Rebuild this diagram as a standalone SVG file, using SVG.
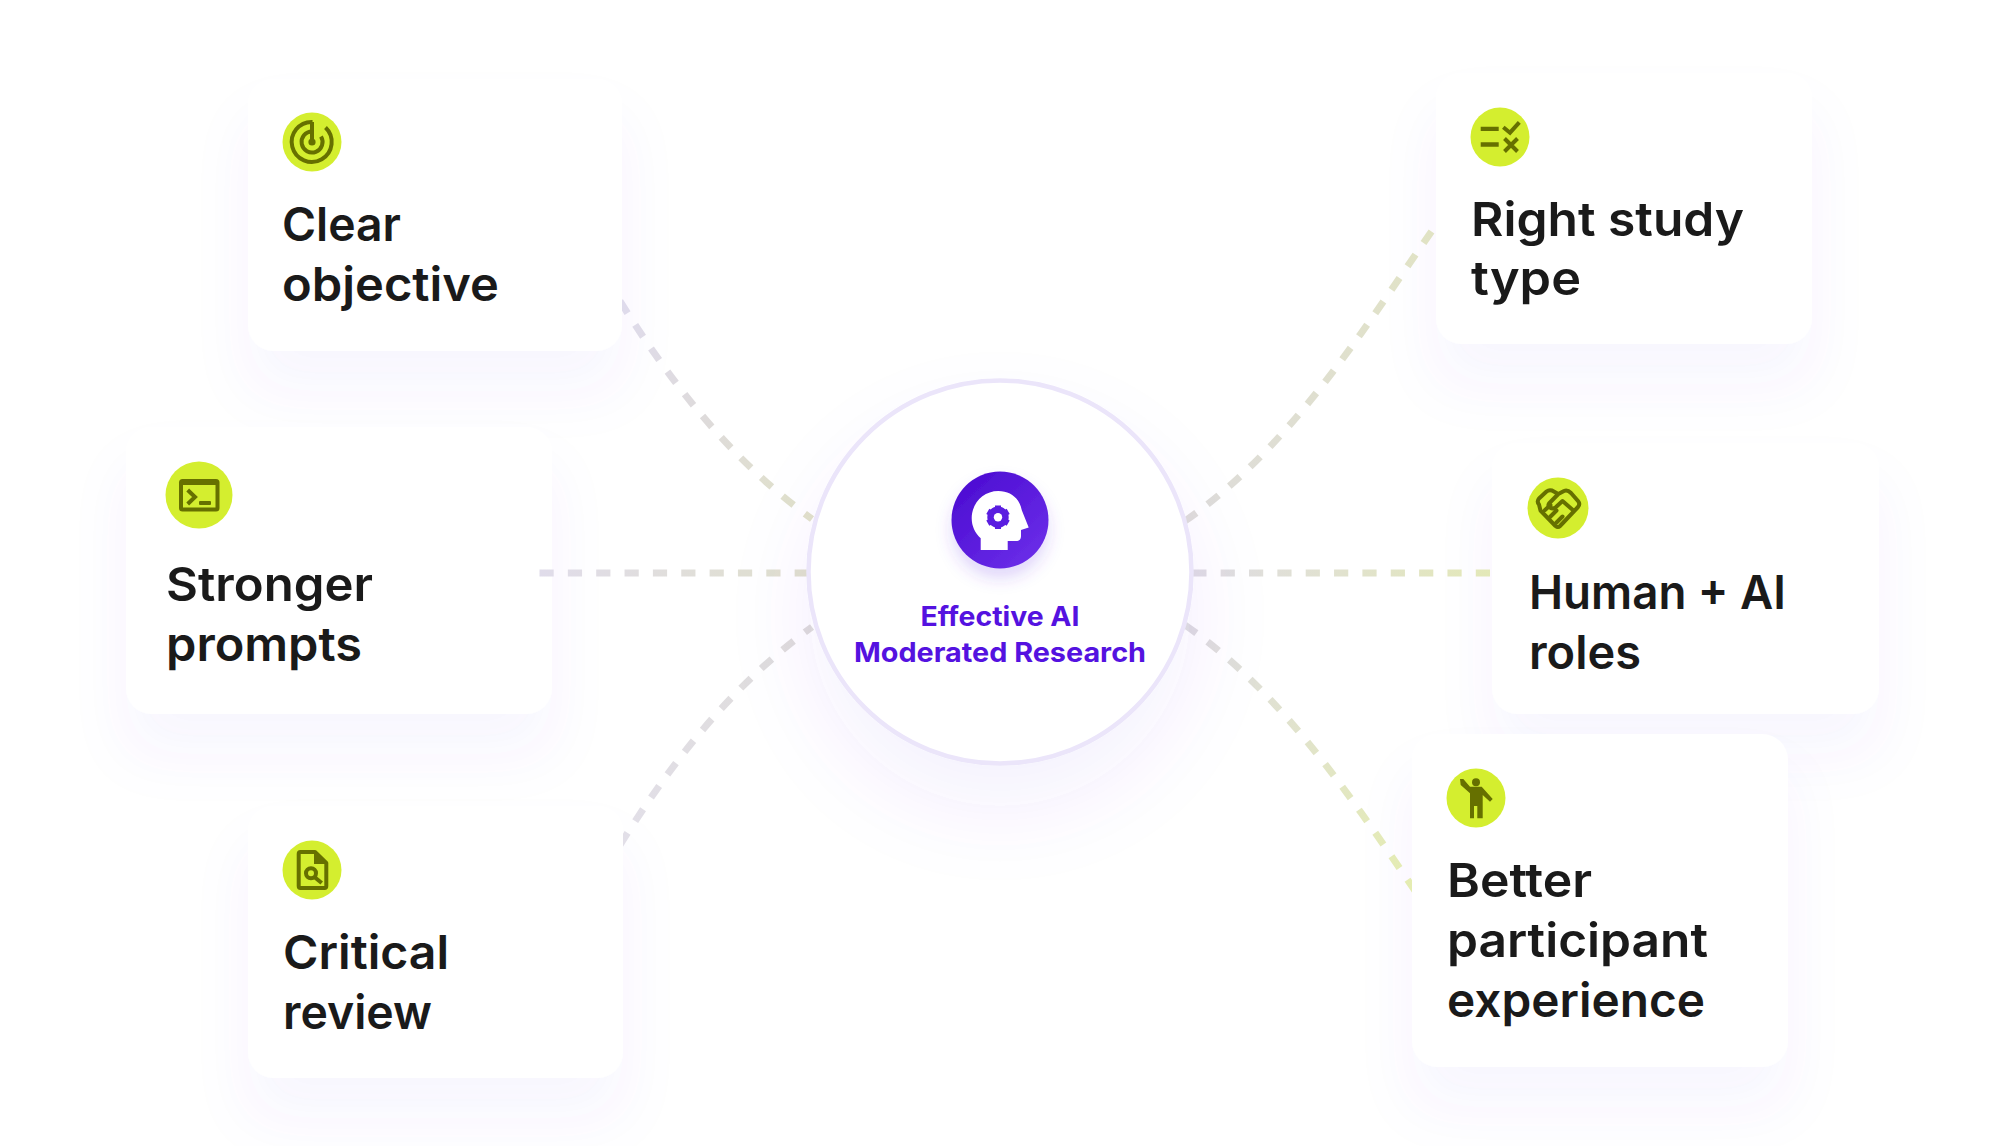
<svg xmlns="http://www.w3.org/2000/svg" width="2000" height="1146" viewBox="0 0 2000 1146">
<style>
.card{fill:#fff;filter:url(#cs)}
.badge{fill:#d4ee2f}
.lbl{font-family:"Inter","Liberation Sans",sans-serif;font-weight:600;font-size:47px;fill:#1a1a1a}
.ctr{font-family:"Inter","Liberation Sans",sans-serif;font-weight:700;font-size:27px;fill:#5412e0;text-anchor:middle}
.ic{fill:none;stroke:#667000;stroke-width:4}
.if{fill:#667000}
.dash{fill:none;stroke-width:7;stroke-dasharray:14.2 14.15}
</style>
<defs>
<filter id="cs" x="-30%" y="-30%" width="160%" height="180%"><feDropShadow dx="0" dy="40" stdDeviation="28" flood-color="#6a3ce8" flood-opacity="0.05"/></filter>
<filter id="ccs" x="-30%" y="-30%" width="160%" height="170%"><feDropShadow dx="0" dy="44" stdDeviation="42" flood-color="#6a3ce8" flood-opacity="0.07"/></filter>
<filter id="is" x="-40%" y="-40%" width="180%" height="190%"><feDropShadow dx="0" dy="10" stdDeviation="8" flood-color="#6a3ce8" flood-opacity="0.2"/></filter>
<linearGradient id="ig" x1="0.1" y1="0.1" x2="0.85" y2="0.9"><stop offset="0" stop-color="#4c0cd2"/><stop offset="1" stop-color="#6a2de8"/></linearGradient>
<linearGradient id="g1" gradientUnits="userSpaceOnUse" x1="624" y1="304" x2="815" y2="523"><stop offset="0" stop-color="#dfdbec"/><stop offset="0.5" stop-color="#dedbda"/><stop offset="1" stop-color="#e1e2c8"/></linearGradient>
<linearGradient id="g2" gradientUnits="userSpaceOnUse" x1="540" y1="573" x2="807" y2="573"><stop offset="0" stop-color="#e0dcea"/><stop offset="1" stop-color="#e0e0cc"/></linearGradient>
<linearGradient id="g3" gradientUnits="userSpaceOnUse" x1="628" y1="842" x2="815" y2="631"><stop offset="0" stop-color="#e2dfe8"/><stop offset="1" stop-color="#dedcda"/></linearGradient>
<linearGradient id="g4" gradientUnits="userSpaceOnUse" x1="1195" y1="522" x2="1441" y2="235"><stop offset="0" stop-color="#dedcda"/><stop offset="1" stop-color="#e1e3c4"/></linearGradient>
<linearGradient id="g5" gradientUnits="userSpaceOnUse" x1="1193" y1="573" x2="1492" y2="573"><stop offset="0" stop-color="#dfdce4"/><stop offset="1" stop-color="#e3e8b8"/></linearGradient>
<linearGradient id="g6" gradientUnits="userSpaceOnUse" x1="1195" y1="628" x2="1417" y2="894"><stop offset="0" stop-color="#dedce0"/><stop offset="1" stop-color="#e5edb0"/></linearGradient>
<clipPath id="cl1"><rect x="622" y="200" width="400" height="500"/></clipPath>
<clipPath id="cl3"><rect x="623" y="500" width="400" height="500"/></clipPath>
<clipPath id="cr1"><rect x="1000" y="100" width="436" height="500"/></clipPath>
<clipPath id="cr3"><rect x="1000" y="500" width="412" height="500"/></clipPath>
</defs>
<rect width="2000" height="1146" fill="#fff"/>

<g id="card-clear-objective">
<rect class="card" x="248" y="79" width="374" height="272" rx="26"/>
<circle class="badge" cx="312" cy="142" r="29.5"/>
<path class="ic" d="M312.5 122 A20 20 0 1 0 325.5 127.5"/>
<path class="ic" d="M312 131.5 A10.5 10.5 0 1 0 321 136.5"/>
<path class="ic" stroke-width="2.5" d="M312 122V142"/>
<circle class="if" cx="312" cy="142" r="3.6"/>
<text class="lbl" x="282" y="241" textLength="119" lengthAdjust="spacingAndGlyphs">Clear</text>
<text class="lbl" x="282" y="301" textLength="217" lengthAdjust="spacingAndGlyphs">objective</text>
</g>
<g id="card-right-study-type">
<rect class="card" x="1436" y="73" width="376" height="271" rx="26"/>
<circle class="badge" cx="1500" cy="137" r="29.5"/>
<path class="if" d="M1480.7 126.7h18v4.3h-18zM1480.7 142.3h18v4.4h-18z"/>
<path class="ic" d="M1503.3 127.3L1510 132.7L1519.3 122.3M1504.5 138.5L1517.5 151.5M1517.5 138.5L1504.5 151.5"/>
<text class="lbl" x="1471" y="236" textLength="273" lengthAdjust="spacingAndGlyphs">Right study</text>
<text class="lbl" x="1471" y="295" textLength="110" lengthAdjust="spacingAndGlyphs">type</text>
</g>
<g id="card-stronger-prompts">
<rect class="card" x="126" y="427" width="426" height="287" rx="26"/>
<circle class="badge" cx="199" cy="495" r="33.5"/>
<rect class="if" x="179" y="479" width="40.5" height="32.5" rx="3.5"/>
<rect class="badge" x="183" y="485" width="32.5" height="22.5"/>
<path class="ic" d="M187.7 490L195 497L187.7 504"/>
<rect class="if" x="199" y="501" width="12" height="4" rx="1"/>
<text class="lbl" x="166" y="601" textLength="207" lengthAdjust="spacingAndGlyphs">Stronger</text>
<text class="lbl" x="166" y="661" textLength="196" lengthAdjust="spacingAndGlyphs">prompts</text>
</g>
<g id="card-human-ai-roles">
<rect class="card" x="1492" y="443" width="387" height="271" rx="26"/>
<circle class="badge" cx="1558" cy="508" r="30.5"/>
<path class="ic" stroke-width="3.6" stroke-linejoin="round" stroke-linecap="round" d="M1539 498.5Q1536.5 501.5 1539 504.5L1540.5 510.5L1555.5 526Q1558 528 1560 526L1578 507Q1580.5 504 1578 501L1571 493Q1567.5 489.5 1564 491L1558.3 494L1552 490.5Q1549 489.5 1546.5 491.5ZM1558.3 494L1549 503.5Q1547.5 506 1550 507.5Q1553 509.5 1556 507L1562.5 501L1574 511M1545 510L1550.5 505M1550.5 516.5L1556.5 510.5M1556.5 522.5L1562.5 516.5"/>
<text class="lbl" x="1529" y="609" textLength="257" lengthAdjust="spacingAndGlyphs">Human + AI</text>
<text class="lbl" x="1529" y="669" textLength="112" lengthAdjust="spacingAndGlyphs">roles</text>
</g>
<g id="card-critical-review">
<rect class="card" x="248" y="806" width="375" height="272" rx="26"/>
<circle class="badge" cx="312" cy="870" r="29.5"/>
<path class="ic" stroke-linejoin="round" d="M315 852H300.5Q298.7 852 298.7 854V886Q298.7 888 300.5 888H324.5Q326.3 888 326.3 886V863Z"/>
<path class="if" d="M314 850.5L328 864L314 864Z"/>
<circle class="ic" stroke-width="3.4" cx="311" cy="873.3" r="5"/>
<path class="ic" d="M315 877.5L321.7 883"/>
<text class="lbl" x="283" y="969" textLength="166" lengthAdjust="spacingAndGlyphs">Critical</text>
<text class="lbl" x="283" y="1029" textLength="149" lengthAdjust="spacingAndGlyphs">review</text>
</g>
<g id="card-better-participant-experience">
<rect class="card" x="1412" y="734" width="376" height="333" rx="26"/>
<circle class="badge" cx="1476" cy="798" r="29.5"/>
<circle class="if" cx="1476" cy="782.3" r="4"/>
<path class="if" d="M1460 779H1463.3L1470 786.7H1481.7L1492.7 799L1490 801.7L1482.7 795V818.3H1477.3V806H1474V818.3H1470V793.3L1460.7 785Z"/>
<text class="lbl" x="1447" y="897" textLength="145" lengthAdjust="spacingAndGlyphs">Better</text>
<text class="lbl" x="1447" y="957" textLength="261" lengthAdjust="spacingAndGlyphs">participant</text>
<text class="lbl" x="1447" y="1017" textLength="258" lengthAdjust="spacingAndGlyphs">experience</text>
</g>

<g id="connectors">
<path class="dash" stroke="url(#g1)" clip-path="url(#cl1)" d="M620 301C671.5 384 732 461 812 519"/>
<path class="dash" stroke="url(#g2)" d="M539.5 573H810"/>
<path class="dash" stroke="url(#g3)" clip-path="url(#cl3)" d="M620 845C671.5 762 732 685 812 627"/>
<path class="dash" stroke="url(#g4)" clip-path="url(#cr1)" d="M1431.5 231.4C1359.5 335.4 1289 448.6 1185 521"/>
<path class="dash" stroke="url(#g5)" d="M1490 573H1190"/>
<path class="dash" stroke="url(#g6)" clip-path="url(#cr3)" d="M1431.5 914.6C1359.5 810.6 1289 697.4 1185 625"/>
</g>

<g id="center-node">
<circle cx="1000" cy="572" r="191.5" fill="#fff" stroke="#ebe5fa" stroke-width="4.5" filter="url(#ccs)"/>
<circle cx="1000" cy="520" r="48.5" fill="url(#ig)" filter="url(#is)"/>
<path fill="#fff" d="M980.7 550V538.3C975 533 971.7 526 971.7 518.3C971.7 503 983.5 491 998.3 491C1011 491 1020 499 1021.7 510L1028.7 527.5L1021 530V536C1021 539 1019.5 541 1016 541H1007.7V550Z"/>
<circle cx="998" cy="517.3" r="7.2" fill="none" stroke="#5a1de0" stroke-width="7"/>
<path fill="none" stroke="#5a1de0" stroke-width="6" d="M998 505.5V529M987.8 511.4L1008.2 523.2M987.8 523.2L1008.2 511.4"/>
<circle cx="998" cy="517.3" r="4.2" fill="#fff"/>
<text class="ctr" x="1000" y="626" textLength="159" lengthAdjust="spacingAndGlyphs">Effective AI</text>
<text class="ctr" x="1000" y="662" textLength="292" lengthAdjust="spacingAndGlyphs">Moderated Research</text>
</g>
</svg>
